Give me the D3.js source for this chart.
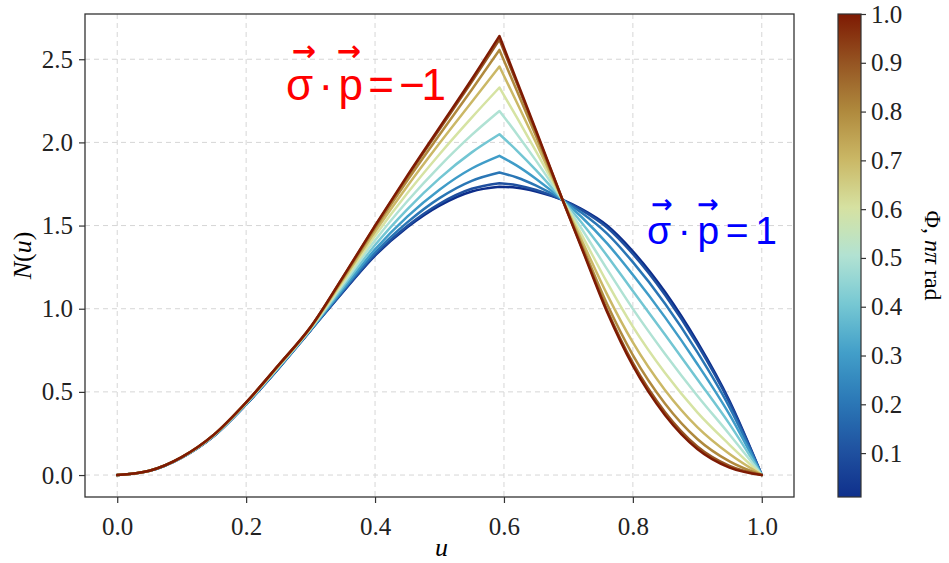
<!DOCTYPE html>
<html>
<head>
<meta charset="utf-8">
<script src="https://cdn.jsdelivr.net/npm/d3@7/dist/d3.min.js"></script>
<style>
  body { margin: 0; background: #fff; }
  .tick text { font-family: "Liberation Serif", serif; font-size: 25px; fill: #222; }
</style>
</head>
<body>
<svg id="chart" width="949" height="563"></svg>
<script>
// u grid shared by every curve (peak kink sits at u = 0.593)
const uValues = [0, 0.05, 0.1, 0.15, 0.2, 0.25, 0.3, 0.35, 0.4, 0.45, 0.5, 0.55, 0.593,
                 0.62, 0.65, 0.691, 0.72, 0.76, 0.8, 0.85, 0.9, 0.95, 1.0];
const peakIndex = 12;

// N(u), one array per phase value
const nPhi00 = [0, .025, .105, .235, .425, .640, .870, 1.100, 1.320, 1.490, 1.620, 1.705, 1.733, 1.728, 1.705, 1.654, 1.600, 1.500, 1.345, 1.100, .800, .445, 0];
const nPhi01 = [0, .025, .105, .235, .425, .640, .870, 1.102, 1.324, 1.497, 1.631, 1.721, 1.755, 1.743, 1.714, 1.654, 1.594, 1.488, 1.329, 1.082, .785, .435, 0];
const nPhi02 = [0, .025, .105, .236, .426, .642, .872, 1.109, 1.337, 1.519, 1.665, 1.769, 1.819, 1.789, 1.740, 1.654, 1.578, 1.451, 1.280, 1.030, .739, .407, 0];
const nPhi03 = [0, .025, .106, .237, .427, .644, .874, 1.118, 1.357, 1.554, 1.716, 1.843, 1.919, 1.860, 1.780, 1.654, 1.553, 1.393, 1.204, .948, .668, .363, 0];
const nPhi04 = [0, .025, .106, .238, .429, .647, .877, 1.131, 1.383, 1.598, 1.784, 1.940, 2.049, 1.951, 1.832, 1.654, 1.520, 1.319, 1.106, .843, .576, .306, 0];
const nPhi05 = [0, .026, .107, .239, .431, .650, .880, 1.145, 1.411, 1.646, 1.856, 2.045, 2.189, 2.051, 1.889, 1.654, 1.484, 1.238, .999, .728, .477, .244, 0];
const nPhi06 = [0, .026, .107, .240, .433, .653, .883, 1.159, 1.438, 1.694, 1.929, 2.149, 2.330, 2.150, 1.945, 1.654, 1.449, 1.158, .892, .613, .377, .182, 0];
const nPhi07 = [0, .026, .107, .241, .435, .656, .886, 1.172, 1.463, 1.737, 1.995, 2.243, 2.456, 2.240, 1.996, 1.654, 1.417, 1.086, .797, .510, .288, .126, 0];
const nPhi08 = [0, .026, .108, .242, .436, .658, .888, 1.182, 1.483, 1.771, 2.046, 2.317, 2.556, 2.310, 2.036, 1.654, 1.391, 1.028, .721, .429, .217, .082, 0];
const nPhi09 = [0, .026, .108, .243, .437, .660, .890, 1.188, 1.496, 1.793, 2.079, 2.364, 2.618, 2.355, 2.061, 1.654, 1.376, .993, .674, .378, .172, .055, 0];
const nPhi10 = [0, .026, .108, .243, .437, .660, .890, 1.190, 1.500, 1.800, 2.090, 2.380, 2.640, 2.370, 2.070, 1.654, 1.370, .980, .657, .360, .157, .045, 0];

const phiValues = [0, 0.1, 0.2, 0.3, 0.4, 0.5, 0.6, 0.7, 0.8, 0.9, 1.0];
const curves = [nPhi00, nPhi01, nPhi02, nPhi03, nPhi04, nPhi05, nPhi06, nPhi07, nPhi08, nPhi09, nPhi10];

const xTicks = [0, 0.2, 0.4, 0.6, 0.8, 1.0];
const yTicks = [0, 0.5, 1.0, 1.5, 2.0, 2.5];
const cbTicks = [0.1, 0.2, 0.3, 0.4, 0.5, 0.6, 0.7, 0.8, 0.9, 1.0];
// colour map sampled from the colour bar, blue (0) -> brown (1)
const cmapDomain = [0, 0.1, 0.2, 0.3, 0.4, 0.5, 0.6, 0.7, 0.8, 0.9, 1.0];
const cmapColors = ["#0d2d8a", "#1f4f9f", "#2a76b5", "#3f9cc8", "#73c6d3", "#b0e2d4",
                    "#d6e3a3", "#cbb866", "#b08a3e", "#955522", "#7e1a03"];

const svg = d3.select("#chart");
const pLeft = 85, pRight = 794, pTop = 14, pBottom = 497;

const x = d3.scaleLinear().domain([-0.05, 1.05]).range([pLeft, pRight]);
const y = d3.scaleLinear().domain([-0.132, 2.772]).range([pBottom, pTop]);
const color = d3.scaleLinear().domain(cmapDomain).range(cmapColors).interpolate(d3.interpolateRgb);

// grid
const grid = svg.append("g").attr("class", "grid");
grid.selectAll(".gx").data(xTicks).join("line")
  .attr("class", "gx")
  .attr("x1", d => x(d)).attr("x2", d => x(d))
  .attr("y1", pTop).attr("y2", pBottom);
grid.selectAll(".gy").data(yTicks).join("line")
  .attr("class", "gy")
  .attr("x1", pLeft).attr("x2", pRight)
  .attr("y1", d => y(d)).attr("y2", d => y(d));
grid.selectAll("line")
  .attr("stroke", "#d6d6d6").attr("stroke-width", 1).attr("stroke-dasharray", "5,4");

// curves: rising part and falling part drawn separately so the kink stays sharp
const line = d3.line()
  .x(d => x(d[0]))
  .y(d => y(d[1]))
  .curve(d3.curveMonotoneX);

const plot = svg.append("g");
curves.forEach((vals, i) => {
  const pts = uValues.map((u, j) => [u, vals[j]]);
  const rise = pts.slice(0, peakIndex + 1);
  const fall = pts.slice(peakIndex);
  const d = line(rise) + line(fall).replace(/^M/, "L");
  plot.append("path")
    .attr("d", d)
    .attr("fill", "none")
    .attr("stroke", color(phiValues[i]))
    .attr("stroke-width", 2.5)
    .attr("stroke-linejoin", "round")
    .attr("stroke-linecap", "round");
});

// axes
const xAxis = svg.append("g")
  .attr("transform", `translate(0,${pBottom})`)
  .call(d3.axisBottom(x).tickValues(xTicks).tickFormat(d3.format(".1f")).tickSize(6).tickPadding(8));
const yAxis = svg.append("g")
  .attr("transform", `translate(${pLeft},0)`)
  .call(d3.axisLeft(y).tickValues(yTicks).tickFormat(d3.format(".1f")).tickSize(6).tickPadding(6));
[xAxis, yAxis].forEach(a => {
  a.select(".domain").remove();
  a.selectAll(".tick line").attr("stroke", "#333").attr("stroke-width", 1.2);
});
xAxis.selectAll(".tick text").attr("dy", "0.95em");

svg.append("rect")
  .attr("x", pLeft).attr("y", pTop)
  .attr("width", pRight - pLeft).attr("height", pBottom - pTop)
  .attr("fill", "none").attr("stroke", "#333").attr("stroke-width", 1.3);

// axis labels
svg.append("text")
  .attr("x", (pLeft + pRight) / 2 + 2).attr("y", 556)
  .attr("text-anchor", "middle")
  .style("font-family", "Liberation Serif, serif").style("font-size", "26px").style("font-style", "italic")
  .text("u");

const yLab = svg.append("text")
  .attr("transform", `translate(31,${(pTop + pBottom) / 2}) rotate(-90)`)
  .attr("text-anchor", "middle")
  .style("font-family", "Liberation Serif, serif").style("font-size", "26px");
yLab.append("tspan").style("font-style", "italic").text("N");
yLab.append("tspan").text("(");
yLab.append("tspan").style("font-style", "italic").text("u");
yLab.append("tspan").text(")");

// annotations
function annotate(txt, len, x0, base, arrows, fill, size) {
  const g = svg.append("g");
  g.append("text")
    .attr("x", x0).attr("y", base)
    .attr("textLength", len).attr("lengthAdjust", "spacing")
    .style("font-family", "Liberation Sans, Arial, sans-serif")
    .style("font-size", size + "px")
    .attr("fill", fill)
    .text(txt);
  arrows.forEach(a => {
    g.append("text")
      .attr("x", a[0]).attr("y", a[1])
      .attr("text-anchor", "middle")
      .style("font-family", "DejaVu Sans, sans-serif")
      .style("font-weight", "bold")
      .style("font-size", (size * 0.66) + "px")
      .attr("fill", fill)
      .text("→");
  });
}
annotate("σ · p = −1", 160, 286, 100, [[304, 61], [349, 61]], "#ff0000", 44);
annotate("σ · p = 1", 130, 647, 244, [[662, 213], [708, 213]], "#0000ff", 39);

// colour bar
const cbLeft = 838, cbRight = 861;
const cb = d3.scaleLinear().domain([0.01, 1.0]).range([pBottom, pTop]);
const defs = svg.append("defs");
const grad = defs.append("linearGradient")
  .attr("id", "cbGrad")
  .attr("x1", "0%").attr("x2", "0%").attr("y1", "100%").attr("y2", "0%");
grad.selectAll("stop").data(d3.range(0, 21).map(k => 0.01 + k * 0.99 / 20)).join("stop")
  .attr("offset", d => ((d - 0.01) / 0.99 * 100) + "%")
  .attr("stop-color", d => color(d));
svg.append("rect")
  .attr("x", cbLeft).attr("y", pTop)
  .attr("width", cbRight - cbLeft).attr("height", pBottom - pTop)
  .attr("fill", "url(#cbGrad)")
  .attr("stroke", "#333").attr("stroke-width", 1.2);
const cbAxis = svg.append("g")
  .attr("transform", `translate(${cbRight},0)`)
  .call(d3.axisRight(cb).tickValues(cbTicks).tickFormat(d3.format(".1f")).tickSize(5).tickPadding(5));
cbAxis.select(".domain").remove();
cbAxis.selectAll(".tick line").attr("stroke", "#333").attr("stroke-width", 1.2);

const cbLab = svg.append("text")
  .attr("transform", `translate(925,${(pTop + pBottom) / 2}) rotate(90)`)
  .attr("text-anchor", "middle")
  .style("font-family", "Liberation Serif, serif").style("font-size", "24px");
cbLab.append("tspan").text("Φ, ");
cbLab.append("tspan").style("font-style", "italic").text("nπ");
cbLab.append("tspan").text(" rad");
</script>
</body>
</html>
